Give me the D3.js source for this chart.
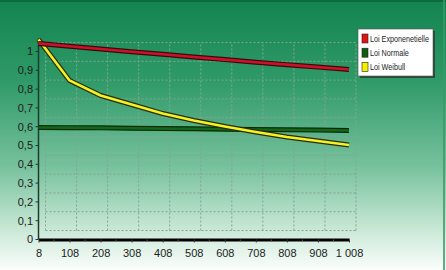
<!DOCTYPE html>
<html>
<head>
<meta charset="utf-8">
<script src="https://cdn.jsdelivr.net/npm/d3@7"></script>
<style>
  html, body { margin: 0; padding: 0; background: #fff; }
  svg { display: block; }
  text { font-family: "Liberation Sans Narrow", "Arial Narrow", "Liberation Sans", sans-serif; fill: #1c1c1c; }
</style>
</head>
<body>
<svg id="chart"></svg>
<script>
    // Chart size
    const width = 446;
    const height = 270;

    // Data
    const xValues = [0, 100, 200, 300, 400, 500, 600, 700, 800, 900, 1000];
    const xLabels = ["8", "108", "208", "308", "408", "508", "608", "708", "808", "908", "1 008"];
    const yTicks = [0, 0.1, 0.2, 0.3, 0.4, 0.5, 0.6, 0.7, 0.8, 0.9, 1];
    const yLabels = ["0", "0,1", "0,2", "0,3", "0,4", "0,5", "0,6", "0,7", "0,8", "0,9", "1"];

    const seriesNames = ["Loi Exponenetielle", "Loi Normale", "Loi Weibull"];
    const expoValues    = [1.043, 1.028, 1.013, 0.999, 0.985, 0.971, 0.957, 0.943, 0.930, 0.917, 0.904];
    const normaleValues = [0.596, 0.595, 0.594, 0.592, 0.590, 0.589, 0.587, 0.585, 0.584, 0.582, 0.580];
    const weibullValues = [1.064, 0.846, 0.766, 0.718, 0.670, 0.633, 0.601, 0.572, 0.545, 0.524, 0.503];

    const seriesColors = ["#c8142a", "#16661a", "#f2f22a"];
    const seriesEdges  = ["#3c080c", "#062a08", "#2c2c04"];
    const swatchColors = ["#e01414", "#0e5e12", "#f4f000"];

    // Scales (front axis) and 3D depth offset of the back wall
    const x = d3.scaleLinear().domain([0, 1000]).range([38.5, 349]);
    const y = d3.scaleLinear().domain([0, 1]).range([239.5, 51.5]);
    const depthX = 7, depthY = -9;

    const svg = d3.select("#chart")
        .attr("width", width)
        .attr("height", height);

    // Background gradient
    const defs = svg.append("defs");
    const grad = defs.append("linearGradient")
        .attr("id", "bg")
        .attr("x1", 0).attr("y1", 0).attr("x2", 0).attr("y2", 1);
    grad.append("stop").attr("offset", "0%").attr("stop-color", "#13844f");
    grad.append("stop").attr("offset", "30%").attr("stop-color", "#2f9a68");
    grad.append("stop").attr("offset", "62%").attr("stop-color", "#78c29e");
    grad.append("stop").attr("offset", "85%").attr("stop-color", "#c9e8d6");
    grad.append("stop").attr("offset", "100%").attr("stop-color", "#fbfefc");

    svg.append("rect")
        .attr("width", width).attr("height", height)
        .attr("fill", "url(#bg)");

    // Top and right border
    svg.append("rect")
        .attr("x", 0).attr("y", 0).attr("width", width).attr("height", 2)
        .attr("fill", "#0b6a3a");
    svg.append("rect")
        .attr("x", width - 3).attr("y", 0).attr("width", 2).attr("height", height)
        .attr("fill", "#3a9a68").attr("opacity", 0.8);

    // Back wall grid (dashed)
    const grid = svg.append("g")
        .attr("stroke", "#84a494")
        .attr("stroke-width", 1)
        .attr("stroke-dasharray", "2,2")
        .attr("fill", "none");

    grid.selectAll("line.h")
      .data(yTicks)
      .join("line")
        .attr("class", "h")
        .attr("x1", x(0) + depthX)
        .attr("x2", x(1000) + depthX)
        .attr("y1", d => y(d) + depthY)
        .attr("y2", d => y(d) + depthY);

    grid.selectAll("line.v")
      .data(xValues)
      .join("line")
        .attr("class", "v")
        .attr("x1", d => x(d) + depthX)
        .attr("x2", d => x(d) + depthX)
        .attr("y1", y(0) + depthY)
        .attr("y2", y(1) + depthY);

    // Y axis line and ticks
    svg.append("line")
        .attr("x1", x(0)).attr("x2", x(0))
        .attr("y1", y(1.07)).attr("y2", y(0))
        .attr("stroke", "#1e3c2c")
        .attr("stroke-width", 1.5);

    svg.append("g")
      .selectAll("line")
      .data(yTicks)
      .join("line")
        .attr("x1", x(0) - 3).attr("x2", x(0))
        .attr("y1", d => y(d)).attr("y2", d => y(d))
        .attr("stroke", "#1e3c2c");

    svg.append("g")
      .selectAll("text")
      .data(yTicks)
      .join("text")
        .attr("x", 33)
        .attr("y", d => y(d))
        .attr("dy", "0.35em")
        .attr("text-anchor", "end")
        .attr("font-size", 11)
        .text((d, i) => yLabels[i]);

    // X axis (thick black base line)
    const xAxis = d3.axisBottom(x)
        .tickValues(xValues)
        .tickFormat((d, i) => xLabels[i])
        .tickSizeInner(3)
        .tickSizeOuter(0)
        .tickPadding(7);

    const gx = svg.append("g")
        .attr("transform", `translate(0,${y(0)})`)
        .call(xAxis);
    gx.select(".domain")
        .attr("stroke", "#000")
        .attr("stroke-width", 3);
    gx.selectAll(".tick line").attr("stroke", "#333");
    gx.selectAll(".tick text")
        .attr("font-size", 11)
        .attr("font-family", null)
        .attr("fill", "#1c1c1c");

    // minor ticks
    svg.append("g")
      .selectAll("line")
      .data(d3.range(0, 1000, 50).filter(d => d % 100 !== 0))
      .join("line")
        .attr("x1", d => x(d)).attr("x2", d => x(d))
        .attr("y1", y(0)).attr("y2", y(0) + 2)
        .attr("stroke", "#555");

    // Series lines, drawn as ribbons with a dark edge
    const allSeries = [expoValues, normaleValues, weibullValues];
    const lineGen = d3.line()
        .x((d, i) => x(xValues[i]))
        .y(d => y(d));

    const order = [1, 2, 0];
    order.forEach(k => {
        svg.append("path")
            .datum(allSeries[k])
            .attr("d", lineGen)
            .attr("fill", "none")
            .attr("stroke", seriesEdges[k])
            .attr("stroke-width", 5)
            .attr("stroke-linejoin", "round");
        svg.append("path")
            .datum(allSeries[k])
            .attr("d", lineGen)
            .attr("fill", "none")
            .attr("stroke", seriesColors[k])
            .attr("stroke-width", 2.6)
            .attr("stroke-linejoin", "round");
    });

    // Legend
    const legend = svg.append("g")
        .attr("transform", "translate(358,29)");
    legend.append("rect")
        .attr("x", 2).attr("y", 2)
        .attr("width", 75).attr("height", 47)
        .attr("fill", "#2e4a3a");
    legend.append("rect")
        .attr("width", 75).attr("height", 47)
        .attr("fill", "#fff")
        .attr("stroke", "#555")
        .attr("stroke-width", 0.6);

    const item = legend.selectAll("g.item")
      .data(seriesNames)
      .join("g")
        .attr("class", "item")
        .attr("transform", (d, i) => `translate(4,${9.5 + i * 14.2})`);
    item.append("rect")
        .attr("x", 0).attr("y", -4.5)
        .attr("width", 6).attr("height", 9)
        .attr("fill", (d, i) => swatchColors[i])
        .attr("stroke", "#222")
        .attr("stroke-width", 0.6);
    // narrow the legend labels horizontally, as in the original
    item.append("text")
        .attr("transform", "translate(8,0) scale(0.76,1)")
        .attr("dy", "0.35em")
        .attr("font-size", 9.5)
        .text(d => d);
</script>
</body>
</html>
